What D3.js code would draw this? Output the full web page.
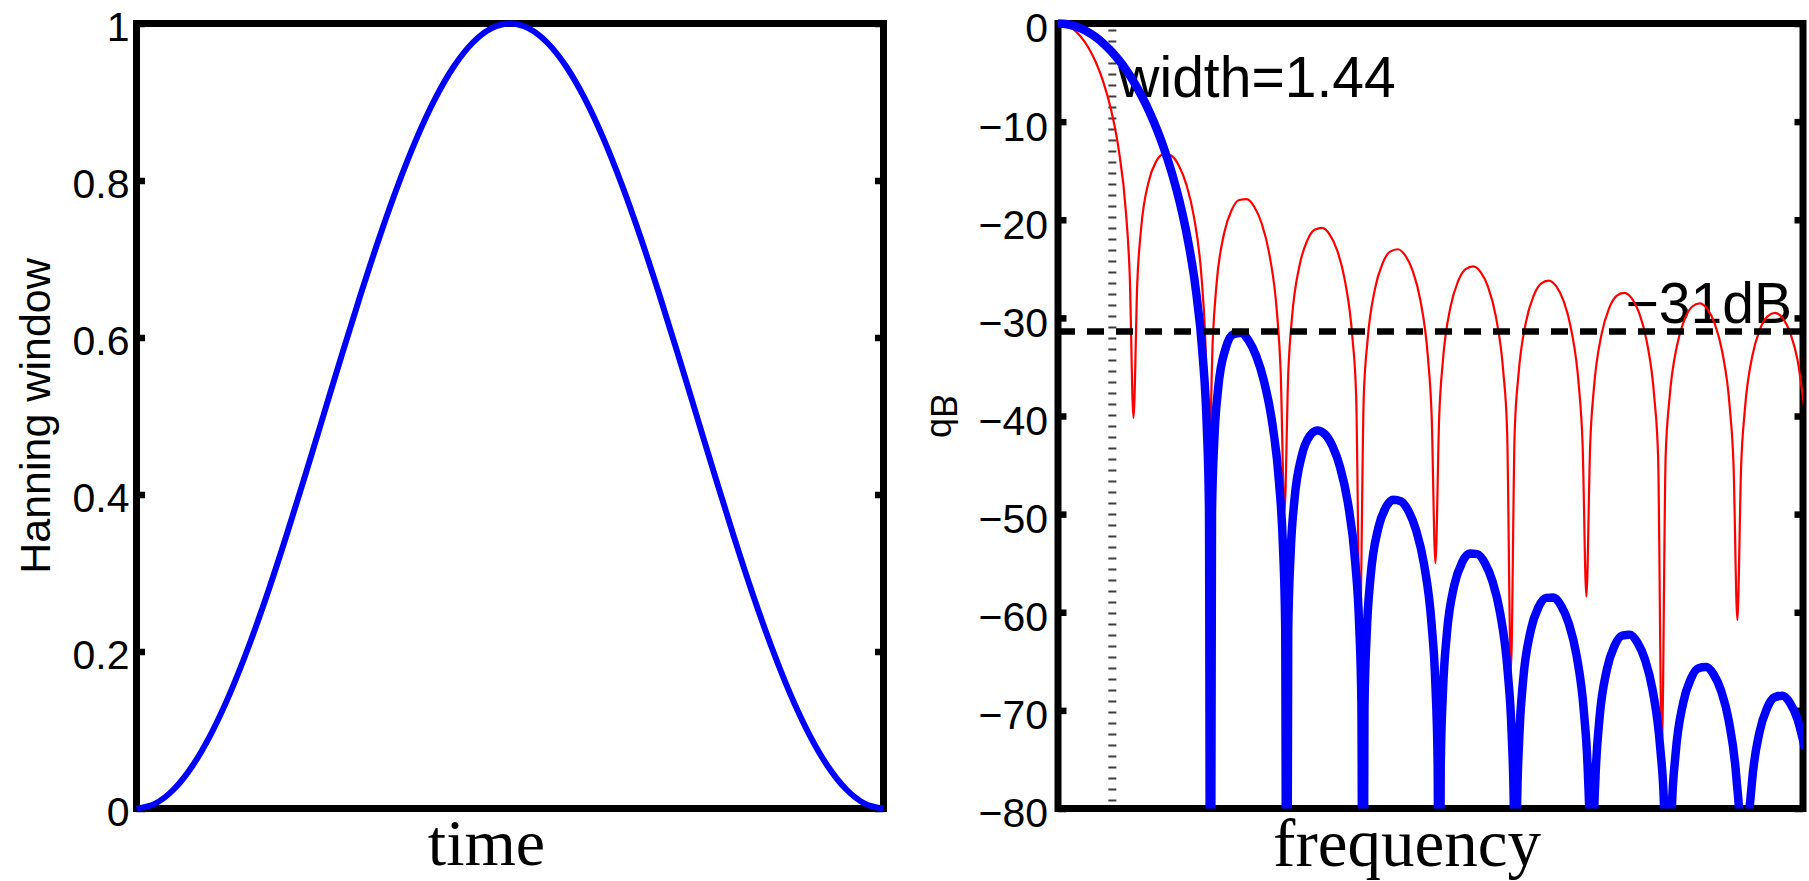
<!DOCTYPE html>
<html>
<head>
<meta charset="utf-8">
<script src="https://cdn.jsdelivr.net/npm/d3@7"></script>
<style>
  body { margin: 0; background: #fff; }
  svg { display: block; }
</style>
</head>
<body>
<script>
// ---- left panel: Hanning window vs time
const timeT = [0, 0.025, 0.05, 0.075, 0.1, 0.125, 0.15, 0.175, 0.2, 0.225, 0.25, 0.275, 0.3, 0.325, 0.35, 0.375, 0.4, 0.425, 0.45, 0.475,
  0.5, 0.525, 0.55, 0.575, 0.6, 0.625, 0.65, 0.675, 0.7, 0.725, 0.75, 0.775, 0.8, 0.825, 0.85, 0.875, 0.9, 0.925, 0.95, 0.975, 1];
const hannW = [0, 0.0062, 0.0245, 0.0545, 0.0955, 0.1464, 0.2061, 0.2730, 0.3455, 0.4218, 0.5, 0.5782, 0.6545, 0.7270, 0.7939, 0.8536, 0.9045, 0.9455, 0.9755, 0.9938,
  1, 0.9938, 0.9755, 0.9455, 0.9045, 0.8536, 0.7939, 0.7270, 0.6545, 0.5782, 0.5, 0.4218, 0.3455, 0.2730, 0.2061, 0.1464, 0.0955, 0.0545, 0.0245, 0.0062, 0];
const leftTicks = [0, 0.2, 0.4, 0.6, 0.8, 1];
const leftTickLabels = ["0", "0.2", "0.4", "0.6", "0.8", "1"];

// ---- right panel: spectra in dB vs frequency (bins)
// rectangular window (thin red)
const rectF = [0, 0.1, 0.2, 0.3, 0.4, 0.5, 0.6, 0.7, 0.8, 0.9, 0.95, 1,
  1.05, 1.1, 1.2, 1.3, 1.4, 1.5, 1.6, 1.7, 1.8, 1.9, 1.95, 2,
  2.05, 2.1, 2.2, 2.3, 2.4, 2.5, 2.6, 2.7, 2.8, 2.9, 2.95, 3,
  3.05, 3.1, 3.2, 3.3, 3.4, 3.5, 3.6, 3.7, 3.8, 3.9, 3.95, 4,
  4.05, 4.1, 4.2, 4.3, 4.4, 4.5, 4.6, 4.7, 4.8, 4.9, 4.95, 5,
  5.05, 5.1, 5.2, 5.3, 5.4, 5.5, 5.6, 5.7, 5.8, 5.9, 5.95, 6,
  6.05, 6.1, 6.2, 6.3, 6.4, 6.5, 6.6, 6.7, 6.8, 6.9, 6.95, 7,
  7.05, 7.1, 7.2, 7.3, 7.4, 7.5, 7.6, 7.7, 7.8, 7.9, 7.95, 8,
  8.05, 8.1, 8.2, 8.3, 8.4, 8.5, 8.6, 8.7, 8.8, 8.9, 8.95, 9,
  9.05, 9.1, 9.2, 9.3, 9.4, 9.5, 9.6, 9.7, 9.8, 9.9];
const rectDb = [0, -0.143, -0.579, -1.326, -2.420, -3.922, -5.942, -8.686, -12.620, -19.228, -25.610, -40.2,
  -26.480, -20.971, -16.142, -14.063, -13.302, -13.465, -14.461, -16.393, -19.663, -25.718, -31.857, -45,
  -32.291, -26.587, -21.406, -19.019, -17.983, -17.902, -18.678, -20.411, -23.501, -29.391, -35.452, -49.8,
  -35.742, -29.970, -24.661, -22.154, -21.009, -20.824, -21.505, -23.148, -26.154, -31.964, -37.988, -62,
  -38.205, -32.399, -27.023, -24.453, -23.248, -23.007, -23.634, -25.226, -28.183, -33.947, -39.948, -55,
  -40.122, -34.294, -28.878, -26.270, -25.027, -24.750, -25.343, -26.902, -29.827, -35.560, -41.546, -66,
  -41.691, -35.850, -30.406, -27.771, -26.503, -26.201, -26.770, -28.306, -31.208, -36.920, -42.896, -58.4,
  -43.020, -37.168, -31.705, -29.050, -27.764, -27.444, -27.995, -29.514, -32.400, -38.096, -44.063, -74,
  -44.172, -38.313, -32.834, -30.166, -28.865, -28.531, -29.069, -30.574, -33.448, -39.131, -45.092, -60.8,
  -45.189, -39.324, -33.834, -31.154, -29.842, -29.498, -30.024, -31.519, -34.383, -40.056];

// Hanning window (thick blue); nulls drop below the -80 floor
const hannF = [0, 0.101, 0.202, 0.303, 0.404, 0.505, 0.606, 0.707, 0.808, 0.909, 1.01, 1.111, 1.212, 1.313, 1.414, 1.515, 1.616, 1.717, 1.818, 1.919, 1.970, 2.000, 2.020,
  2.040, 2.071, 2.121, 2.222, 2.323, 2.424, 2.525, 2.626, 2.727, 2.828, 2.929, 2.980, 3.010, 3.030,
  3.050, 3.081, 3.131, 3.232, 3.333, 3.434, 3.535, 3.636, 3.737, 3.838, 3.939, 3.990, 4.020, 4.040,
  4.060, 4.091, 4.141, 4.242, 4.343, 4.444, 4.545, 4.646, 4.747, 4.848, 4.949, 5.000, 5.030, 5.050,
  5.070, 5.101, 5.151, 5.252, 5.353, 5.454, 5.555, 5.656, 5.757, 5.858, 5.959, 6.010, 6.040, 6.060,
  6.080, 6.111, 6.161, 6.262, 6.363, 6.464, 6.565, 6.666, 6.767, 6.868, 6.969, 7.020, 7.050, 7.070,
  7.090, 7.121, 7.171, 7.272, 7.373, 7.474, 7.575, 7.676, 7.777, 7.878, 7.979, 8.030, 8.080,
  8.131, 8.181, 8.282, 8.383, 8.484, 8.585, 8.686, 8.787, 8.888, 8.989, 9.040, 9.090,
  9.141, 9.191, 9.292, 9.393, 9.494, 9.595, 9.696, 9.797, 9.898];
const hannDb = [0, -0.056, -0.224, -0.507, -0.906, -1.423, -2.066, -2.837, -3.746, -4.803, -6.021, -7.415, -9.011, -10.840, -12.947, -15.403, -18.323, -21.922, -26.668, -34.051, -40.808, -49.227, -120,
  -49.862, -42.401, -37.242, -33.093, -31.668, -31.535, -32.305, -33.886, -36.384, -40.202, -46.787, -53.185, -61.398, -120,
  -61.775, -54.126, -48.670, -43.974, -42.058, -41.482, -41.847, -43.060, -45.217, -48.722, -55.016, -61.276, -69.410, -120,
  -69.682, -61.957, -56.378, -51.446, -49.309, -48.525, -48.696, -49.724, -51.708, -55.047, -61.185, -67.370, -75.460, -120,
  -75.674, -67.906, -62.256, -57.191, -54.926, -54.020, -54.073, -54.989, -56.865, -60.102, -66.141, -72.278, -80.339, -120,
  -80.516, -72.721, -67.027, -61.873, -59.523, -58.536, -58.509, -59.350, -61.153, -64.318, -70.290, -76.394, -84.434, -120,
  -84.585, -76.771, -71.044, -65.829, -63.418, -62.373, -62.291, -63.076, -64.826, -67.940, -73.861, -79.939, -120,
  -80.269, -74.519, -69.256, -66.802, -65.712, -65.587, -66.331, -68.039, -71.114, -76.996, -83.056, -120,
  -83.348, -77.580, -72.282, -69.792, -68.668, -68.510, -69.220, -70.897, -73.941];

const rightTicks = [0, -10, -20, -30, -40, -50, -60, -70, -80];
const rightTickLabels = ["0", "\u221210", "\u221220", "\u221230", "\u221240", "\u221250", "\u221260", "\u221270", "\u221280"];
const freqMax = 9.87;
const halfWidth = 0.72;        // -3 dB half width, marked by the dotted line
const widthLabel = "width=1.44";
const sidelobeDb = -31.4;      // dashed line
const sidelobeLabel = "\u221231dB";

const W = 1809, H = 881;
const yTop = 23.5, yBot = 808.5;
const sans = "'Liberation Sans', Arial, Helvetica, sans-serif";
const serif = "'Liberation Serif', 'Times New Roman', Times, serif";

let svg = d3.select("body").append("svg")
  .attr("width", W)
  .attr("height", H)
  .style("background", "#fff");

// scales
let xL = d3.scaleLinear().domain([0, 1]).range([136.5, 883.5]);
let yL = d3.scaleLinear().domain([0, 1]).range([yBot, yTop]);
let xR = d3.scaleLinear().domain([0, freqMax]).range([1058, 1803]);
let yR = d3.scaleLinear().domain([-80, 0]).range([yBot, yTop]);

function drawAxes(xs, ys, ticks, labels, labelDy, pad) {
  let g = svg.append("g");
  // left side with labels
  let ax = g.append("g")
    .attr("transform", `translate(${xs.range()[0]},0)`)
    .call(d3.axisLeft(ys).tickValues(ticks).tickFormat((d, i) => labels[i]).tickSize(-8.5).tickPadding(pad));
  ax.select(".domain").remove();
  ax.selectAll("line").attr("stroke", "#000").attr("stroke-width", 6.5);
  ax.selectAll("text")
    .attr("font-family", sans)
    .attr("font-size", 41)
    .attr("fill", "#000")
    .attr("dy", labelDy);
  // mirrored ticks on the right
  let ax2 = g.append("g")
    .attr("transform", `translate(${xs.range()[1]},0)`)
    .call(d3.axisRight(ys).tickValues(ticks).tickFormat("").tickSize(-8.5));
  ax2.select(".domain").remove();
  ax2.selectAll("line").attr("stroke", "#000").attr("stroke-width", 6.5);
  // box
  g.append("rect")
    .attr("x", xs.range()[0])
    .attr("y", yTop)
    .attr("width", xs.range()[1] - xs.range()[0])
    .attr("height", yBot - yTop)
    .attr("fill", "none")
    .attr("stroke", "#000")
    .attr("stroke-width", 7);
}

drawAxes(xL, yL, leftTicks, leftTickLabels, "0.41em", 7);
drawAxes(xR, yR, rightTicks, rightTickLabels, "0.45em", 10);

// axis labels
svg.append("text")
  .attr("transform", `translate(50,${(yTop + yBot) / 2}) rotate(-90)`)
  .attr("text-anchor", "middle")
  .attr("font-family", sans)
  .attr("font-size", 43)
  .text("Hanning window");

// the dB label is printed flipped in the original
svg.append("text")
  .attr("transform", `translate(931,${(yTop + yBot) / 2}) rotate(-90) scale(1,-1)`)
  .attr("text-anchor", "middle")
  .attr("font-family", sans)
  .attr("font-size", 36)
  .text("dB");

svg.append("text")
  .attr("x", (xL.range()[0] + xL.range()[1]) / 2 - 23.5)
  .attr("y", 865)
  .attr("text-anchor", "middle")
  .attr("font-family", serif)
  .attr("font-size", 66)
  .text("time");

svg.append("text")
  .attr("x", (xR.range()[0] + xR.range()[1]) / 2 - 23.5)
  .attr("y", 866)
  .attr("text-anchor", "middle")
  .attr("font-family", serif)
  .attr("font-size", 67)
  .text("frequency");

// left curve
let timeData = timeT.map((t, i) => [t, hannW[i]]);
svg.append("path")
  .datum(timeData)
  .attr("fill", "none")
  .attr("stroke", "#0000ff")
  .attr("stroke-width", 6)
  .attr("d", d3.line().x(d => xL(d[0])).y(d => yL(d[1])).curve(d3.curveMonotoneX));

// right panel
svg.append("clipPath").attr("id", "clipR")
  .append("rect")
  .attr("x", xR.range()[0])
  .attr("y", yTop - 6)
  .attr("width", xR.range()[1] - xR.range()[0])
  .attr("height", yBot - yTop + 6);

// annotations under the curves
svg.append("line")
  .attr("x1", xR(halfWidth)).attr("x2", xR(halfWidth))
  .attr("y1", yTop + 6).attr("y2", yBot)
  .attr("stroke", "#3c3c3c")
  .attr("stroke-width", 8)
  .attr("stroke-dasharray", "2 9");

svg.append("text")
  .attr("x", xR(halfWidth) + 6)
  .attr("y", yR(-7.5))
  .attr("font-family", sans)
  .attr("font-size", 57)
  .text(widthLabel);

svg.append("text")
  .attr("x", xR.range()[1] - 11)
  .attr("y", yR(-30.5))
  .attr("text-anchor", "end")
  .attr("font-family", sans)
  .attr("font-size", 57)
  .text(sidelobeLabel);

let plotR = svg.append("g").attr("clip-path", "url(#clipR)");
let lineR = d3.line().x(d => xR(d[0])).y(d => yR(d[1])).curve(d3.curveMonotoneX);

plotR.append("path")
  .datum(rectF.map((f, i) => [f, rectDb[i]]))
  .attr("fill", "none")
  .attr("stroke", "#ff0000")
  .attr("stroke-width", 2.2)
  .attr("stroke-linejoin", "round")
  .attr("d", lineR);

plotR.append("path")
  .datum(hannF.map((f, i) => [f, hannDb[i]]))
  .attr("fill", "none")
  .attr("stroke", "#0000ff")
  .attr("stroke-width", 8.5)
  .attr("stroke-linejoin", "round")
  .attr("d", lineR);

plotR.append("line")
  .attr("x1", xR.range()[0]).attr("x2", xR.range()[1])
  .attr("y1", yR(sidelobeDb)).attr("y2", yR(sidelobeDb))
  .attr("stroke", "#000")
  .attr("stroke-width", 6.5)
  .attr("stroke-dasharray", "17 12");
</script>
</body>
</html>
